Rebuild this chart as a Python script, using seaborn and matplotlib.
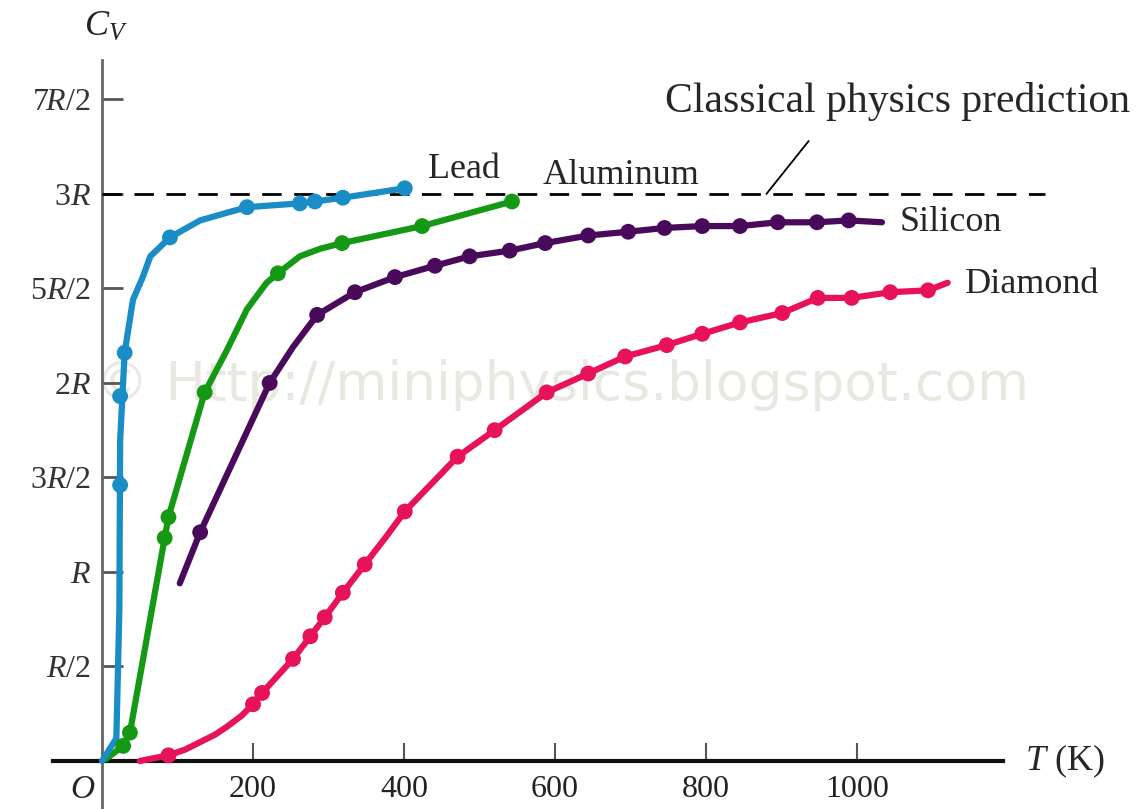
import matplotlib
matplotlib.use('Agg')
import matplotlib.pyplot as plt
import seaborn as sns
import pandas as pd

sns.set_theme(style='white')
plt.rcParams['font.family'] = ['Liberation Serif', 'DejaVu Serif']
plt.rcParams['mathtext.fontset'] = 'custom'
plt.rcParams['mathtext.rm'] = 'Liberation Serif'
plt.rcParams['mathtext.it'] = 'Liberation Serif:italic'

# ---- datos (T en K, Cv en unidades de R) ----
# curvas (vertices de la linea)
lead_T = [0, 19, 23, 24, 24, 30, 41, 54, 64, 90, 130, 165, 192, 262, 282, 319, 401]
lead_cv = [0, 0.12, 0.8, 1.46, 1.93, 2.16, 2.44, 2.56, 2.67, 2.77, 2.86, 2.90,
           2.93, 2.95, 2.96, 2.98, 3.03]
al_T = [5, 28, 37, 83, 88, 136, 165, 192, 218, 233, 262, 289, 318, 424, 543]
al_cv = [0.01, 0.08, 0.15, 1.18, 1.29, 1.95, 2.17, 2.39, 2.53, 2.58, 2.67, 2.71,
         2.74, 2.83, 2.96]
si_T = [103, 130, 222, 253, 285, 335, 388, 441, 487, 540, 587, 644, 697, 745,
        795, 845, 895, 947, 989, 1033]
si_cv = [0.94, 1.21, 2.00, 2.19, 2.36, 2.48, 2.56, 2.62, 2.67, 2.70, 2.74, 2.78,
         2.80, 2.82, 2.83, 2.83, 2.85, 2.85, 2.86, 2.85]
di_T = [50, 88, 110, 130, 150, 165, 185, 200, 212, 253, 276, 295, 319, 348, 377,
        401, 471, 520, 589, 644, 693, 748, 795, 845, 901, 948, 993, 1044, 1094, 1120]
di_cv = [0.0, 0.03, 0.06, 0.10, 0.14, 0.18, 0.24, 0.30, 0.36, 0.54, 0.66, 0.76,
         0.89, 1.04, 1.19, 1.32, 1.61, 1.75, 1.95, 2.05, 2.14, 2.20, 2.26, 2.32,
         2.37, 2.45, 2.45, 2.48, 2.49, 2.53]

# puntos medidos (marcadores)
lead_mT = [24, 24, 30, 90, 192, 262, 282, 319, 401]
lead_mcv = [1.46, 1.93, 2.16, 2.77, 2.93, 2.95, 2.96, 2.98, 3.03]
al_mT = [28, 37, 83, 88, 136, 233, 318, 424, 543]
al_mcv = [0.08, 0.15, 1.18, 1.29, 1.95, 2.58, 2.74, 2.83, 2.96]
si_mT = [130, 222, 285, 335, 388, 441, 487, 540, 587, 644, 697, 745, 795, 845,
         895, 947, 989]
si_mcv = [1.21, 2.00, 2.36, 2.48, 2.56, 2.62, 2.67, 2.70, 2.74, 2.78, 2.80, 2.82,
          2.83, 2.83, 2.85, 2.85, 2.86]
di_mT = [88, 200, 212, 253, 276, 295, 319, 348, 401, 471, 520, 589, 644, 693,
         748, 795, 845, 901, 948, 993, 1044, 1094]
di_mcv = [0.03, 0.30, 0.36, 0.54, 0.66, 0.76, 0.89, 1.04, 1.32, 1.61, 1.75, 1.95,
          2.05, 2.14, 2.20, 2.26, 2.32, 2.37, 2.45, 2.45, 2.48, 2.49]

x_ticks = [200, 400, 600, 800, 1000]
y_ticks = [0.5, 1.0, 1.5, 2.0, 2.5, 3.0, 3.5]
y_labels = ['$R/2$', '$R$', '$3R/2$', '$2R$', '$5R/2$', '$3R$', '$7R/2$']

series = [
    ('Diamond', di_T, di_cv, di_mT, di_mcv, '#e8125a'),
    ('Silicon', si_T, si_cv, si_mT, si_mcv, '#4a0a5c'),
    ('Aluminum', al_T, al_cv, al_mT, al_mcv, '#159915'),
    ('Lead', lead_T, lead_cv, lead_mT, lead_mcv, '#1a8cc6'),
]

fig = plt.figure(figsize=(11.48, 8.09), dpi=100)
ax = fig.add_axes([0, 0, 1, 1])
ax.set_xlim(-135.1, 1385.4)
ax.set_ylim(-0.254, 4.026)

# marca de agua
ax.text(609, 1.99, '\u00a9 Http://miniphysics.blogspot.com', family='DejaVu Sans',
        fontsize=38.5, color='#e8e8e0', ha='center', va='center', zorder=0)

# prediccion clasica
ax.plot([0, 1249], [3, 3], color='black', lw=2, ls=(0, (7, 4.5)), zorder=2)
ax.plot([880, 936], [3.0, 3.28], color='black', lw=1.3, zorder=2)

for nombre, T, cv, mT, mcv, col in series:
    linea = pd.DataFrame({'T': T, 'Cv': cv})
    pts = pd.DataFrame({'T': mT, 'Cv': mcv})
    sns.lineplot(data=linea, x='T', y='Cv', sort=False, color=col, lw=4.5,
                 ax=ax, zorder=3)
    sns.scatterplot(data=pts, x='T', y='Cv', color=col, s=130, marker='o',
                    edgecolor='none', ax=ax, zorder=4)

# etiquetas de curvas
ax.text(432, 3.13, 'Lead', fontsize=26, va='center', ha='left')
ax.text(584, 3.10, 'Aluminum', fontsize=26, va='center', ha='left')
ax.text(1057, 2.85, 'Silicon', fontsize=26, va='center', ha='left')
ax.text(1143, 2.52, 'Diamond', fontsize=26, va='center', ha='left')
ax.text(746, 3.49, 'Classical physics prediction', fontsize=30, va='center', ha='left')
ax.text(1222, 0.0, '$T$ (K)', fontsize=26, va='center', ha='left')
ax.text(-24, 3.88, '$C_V$', fontsize=26, va='center', ha='left', color='#222222')
ax.text(-26, -0.153, '$O$', fontsize=24, va='center', ha='center')

# ejes
for s in ['top', 'right']:
    ax.spines[s].set_visible(False)
ax.spines['left'].set_position(('data', 0))
ax.spines['bottom'].set_position(('data', 0))
ax.spines['left'].set_bounds(-0.254, 3.71)
ax.spines['bottom'].set_bounds(-65, 1193)
ax.spines['left'].set_color('#666666')
ax.spines['left'].set_linewidth(2)
ax.spines['bottom'].set_color('#111111')
ax.spines['bottom'].set_linewidth(3)
ax.spines['left'].set_zorder(1)

ax.set_xticks(x_ticks)
ax.set_xticklabels([str(v) for v in x_ticks])
ax.set_yticks(y_ticks)
ax.set_yticklabels(y_labels)
ax.tick_params(axis='x', direction='in', length=13, width=1.5, color='#555555',
               pad=10, labelsize=23, labelcolor='#222222', bottom=True)
ax.tick_params(axis='y', direction='in', length=15, width=2, color='#555555',
               pad=8, labelsize=23, labelcolor='#333333', left=True)
ax.set_xlabel('')
ax.set_ylabel('')
ax.set_facecolor('white')

fig.savefig('out.png', dpi=100)
